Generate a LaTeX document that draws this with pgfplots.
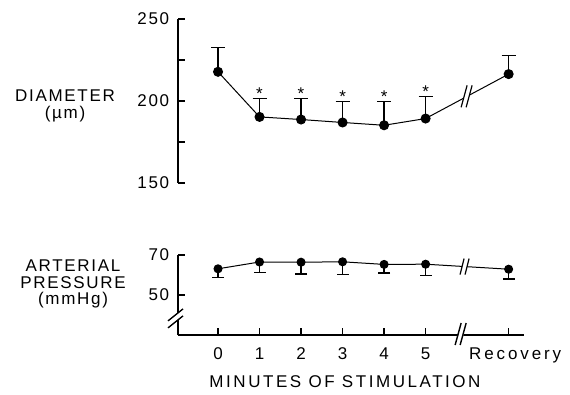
\documentclass[border=0pt]{standalone}
\usepackage{pgfplots}
\pgfplotsset{compat=1.18}
\usepackage{fontspec}
\setmainfont{Liberation Sans}[LetterSpace=10]
\begin{document}
\fontsize{17}{18}\selectfont
\begin{tikzpicture}[x=1pt,y=1pt]
\path[use as bounding box] (0,0) rectangle (570,394);
\pgfplotsset{
  common/.style={
    scale only axis, clip=false,
    xmin=-0.964, xmax=7.37,
    width=346pt,
    major tick length=7pt, minor tick length=7pt,
    every tick/.style={line width=1.4pt, black},
    tick label style={font=\fontsize{17}{18}\selectfont},
    yticklabel style={xshift=-3pt},
    xticklabel style={yshift=-7pt},
  },
  fix/.style={
    tick align=inside,
    axis line style={line width=2.2pt,-},
    every outer x axis line/.append style={line width=2.2pt,-},
    every outer y axis line/.append style={line width=2.2pt,-},
  }
}
\begin{axis}[common, at={(178pt,211pt)}, anchor=south west, height=164pt,
  ymin=150, ymax=250,
  axis x line=none, axis y line=left, fix,
  ytick={150,200,250}, yticklabels={150,200,250}, minor ytick={175,225},
]
\addplot[black, line width=1pt, mark=*, mark size=4.5pt,
  error bars/.cd, y dir=plus, y explicit,
  error bar style={line width=1.2pt},
  error mark options={rotate=90, mark size=7pt, line width=1.2pt}]
  table[x=x, y=y, y error=e] {
x y e
0 217.8 14.7
1 190.3 11.2
2 188.7 12.8
3 186.9 12.6
4 185.2 14.3
5 189.3 13.2
7 216.4 11.2
};
\addplot[draw=none, mark=none, nodes near coords={*},
  every node near coord/.style={anchor=base, inner sep=0pt, yshift=-1pt, font=\fontsize{17}{18}\selectfont}]
  coordinates {(1,201.5) (2,201.5) (3,199.5) (4,199.5) (5,202.5)};
\coordinate (tb) at (axis cs:6.0,202.85);
\end{axis}

\begin{axis}[common, at={(178pt,59pt)}, anchor=south west, height=80pt,
  ymin=30, ymax=70,
  axis x line=bottom, axis y line=left, fix,
  ytick={50,70}, yticklabels={50,70},
  xtick={0,1,2,3,4,5,7}, xticklabels={0,1,2,3,4,5,\hspace*{13pt}{\addfontfeature{LetterSpace=17}Recovery}},
]
\addplot[black, line width=1pt, mark=*, mark size=4pt,
  error bars/.cd, y dir=minus, y explicit,
  error bar style={line width=1.2pt},
  error mark options={rotate=90, mark size=6pt, line width=1.2pt}]
  table[x=x, y=y, y error=e] {
x y e
0 63.1 4.5
1 66.5 5.4
2 66.4 5.9
3 66.6 6.4
4 65.3 4.3
5 65.4 5.7
7 62.9 4.9
};
\coordinate (bb) at (axis cs:5.95,64.2);
\coordinate (xb) at (axis cs:5.88,30);
\coordinate (yb) at (axis cs:-0.964,38.3);
\end{axis}

% axis labels
\node[align=center, font=\fontsize{17}{16.5}\selectfont] at (65,288) {DIAMETER\\(µm)};
\node[align=center, font=\fontsize{17}{16.5}\selectfont] at (73,110) {ARTERIAL\\PRESSURE\\(mmHg)};
\node[font=\fontsize{17}{18}\selectfont\addfontfeature{LetterSpace=15}] at (345,12) {MINUTES OF STIMULATION};

% break on top data line
\fill[white] ([shift={(-6,-11)}]tb) -- ([shift={(0,11)}]tb) -- ([shift={(5,11)}]tb) -- ([shift={(-1,-11)}]tb) -- cycle;
\draw[line width=1.2pt] ([shift={(-6,-11)}]tb) -- ([shift={(0,11)}]tb);
\draw[line width=1.2pt] ([shift={(-1,-11)}]tb) -- ([shift={(5,11)}]tb);
% break on bottom data line
\fill[white] ([shift={(-5,-8)}]bb) -- ([shift={(-1,8)}]bb) -- ([shift={(4,8)}]bb) -- ([shift={(0,-8)}]bb) -- cycle;
\draw[line width=1.2pt] ([shift={(-5,-8)}]bb) -- ([shift={(-1,8)}]bb);
\draw[line width=1.2pt] ([shift={(0,-8)}]bb) -- ([shift={(4,8)}]bb);
% break on x axis
\fill[white] ([shift={(-6,-10)}]xb) -- ([shift={(-1,12)}]xb) -- ([shift={(4,12)}]xb) -- ([shift={(-1,-10)}]xb) -- cycle;
\draw[line width=1.4pt] ([shift={(-7,-10)}]xb) -- ([shift={(-1,12)}]xb);
\draw[line width=1.4pt] ([shift={(-2,-10)}]xb) -- ([shift={(4,12)}]xb);
% break on bottom y axis
\fill[white] ([shift={(-10,-2.5)}]yb) -- ([shift={(5,9.5)}]yb) -- ([shift={(5,2.5)}]yb) -- ([shift={(-10,-9.5)}]yb) -- cycle;
\draw[line width=1.4pt] ([shift={(-10,-2.5)}]yb) -- ([shift={(5,9.5)}]yb);
\draw[line width=1.4pt] ([shift={(-10,-9.5)}]yb) -- ([shift={(5,2.5)}]yb);
\end{tikzpicture}
\end{document}
